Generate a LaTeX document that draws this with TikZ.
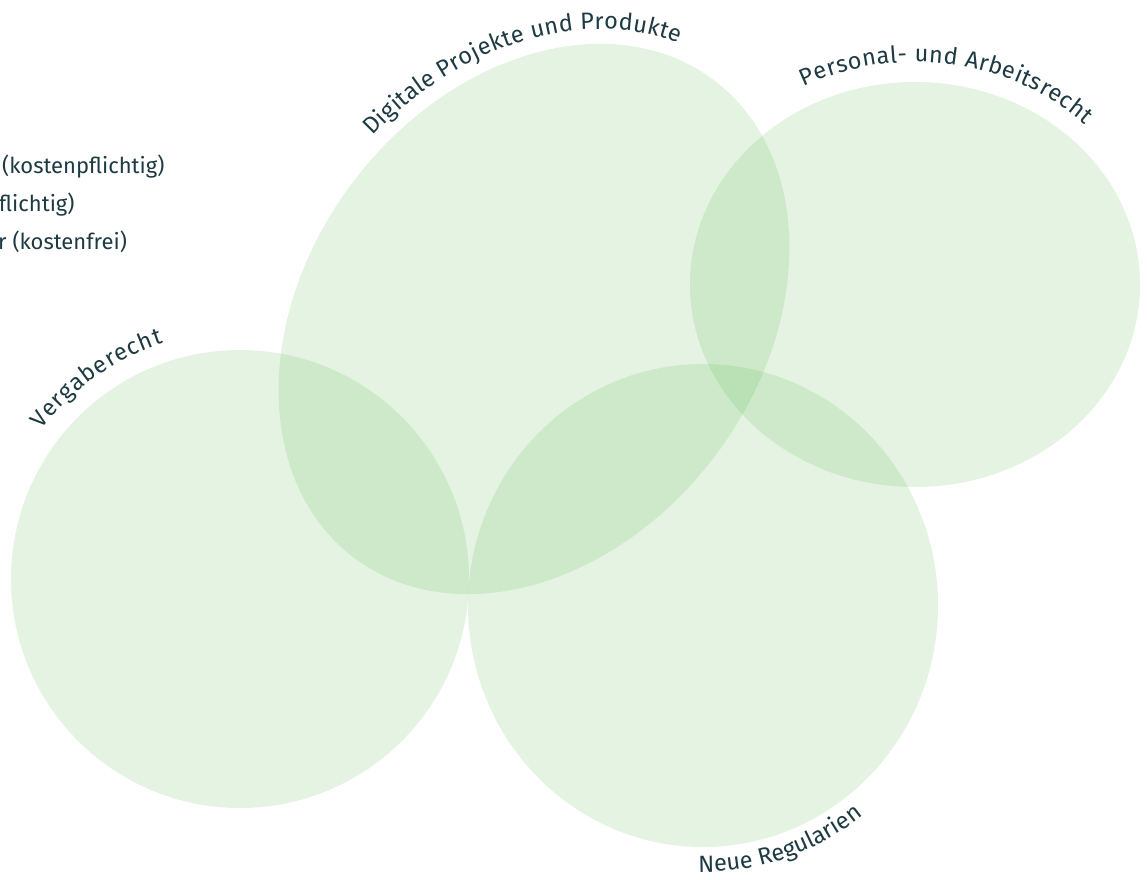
\documentclass[tikz,border=0pt]{standalone}
\usepackage{fontspec}
\setmainfont{Fira Sans}
\usetikzlibrary{decorations.text}
\definecolor{vgreen}{RGB}{75,175,62}
\definecolor{tcol}{RGB}{30,58,66}
\newcommand{\lblfont}{\fontsize{23.5}{28}\selectfont\color{tcol}}
\newcommand{\legfont}{\fontsize{22}{26}\selectfont}
\tikzset{
  venn/.style={fill=vgreen, fill opacity=0.15},
  curvelabel/.style={decorate, decoration={text along path, text format delimiters={|}{|}, text={|\lblfont|#1}, text align={fit to path}}},
  legend/.style={anchor=base west, font=\legfont, text=tcol, inner sep=0pt}
}
\begin{document}
\begin{tikzpicture}[x=1pt,y=1pt]
\useasboundingbox (0,0) rectangle (1147,879);
% sets
\fill[venn] (240,300) circle[radius=229pt];
\fill[venn] (703,273.5) ellipse[x radius=235pt, y radius=241.5pt];
\fill[venn] (915,594.5) ellipse[x radius=225pt, y radius=202.5pt];
\fill[venn, rotate around={53:(534,560)}] (534,560) ellipse[x radius=299pt, y radius=227pt];
% curved labels
\path[curvelabel={Vergaberecht}] (240,300) ++(143:248pt) arc[start angle=143, end angle=108, radius=248pt];
\path[curvelabel={Personal- und Arbeitsrecht}] (915,594.5) ++(117:245pt and 222.5pt) arc[start angle=117, end angle=46, x radius=245pt, y radius=222.5pt];
\path[curvelabel={Neue Regularien}] (703,273.5) ++(-91:260pt and 266.5pt) arc[start angle=-91, end angle=-52, x radius=260pt, y radius=266.5pt];
\path[curvelabel={Digitale Projekte und Produkte}] plot[domain=81:12, samples=40] ({534 + 314*cos(\x)*0.6018 - 242*sin(\x)*0.7986}, {560 + 314*cos(\x)*0.7986 + 242*sin(\x)*0.6018});
% legend fragments
\node[legend] (l1) at (2,705) {(kostenpflichtig)};
\node[legend] (l2) at (-1,667) {flichtig)};
\node[legend] (l3) at (-2,629) {r (kostenfrei)};
\end{tikzpicture}
\end{document}
